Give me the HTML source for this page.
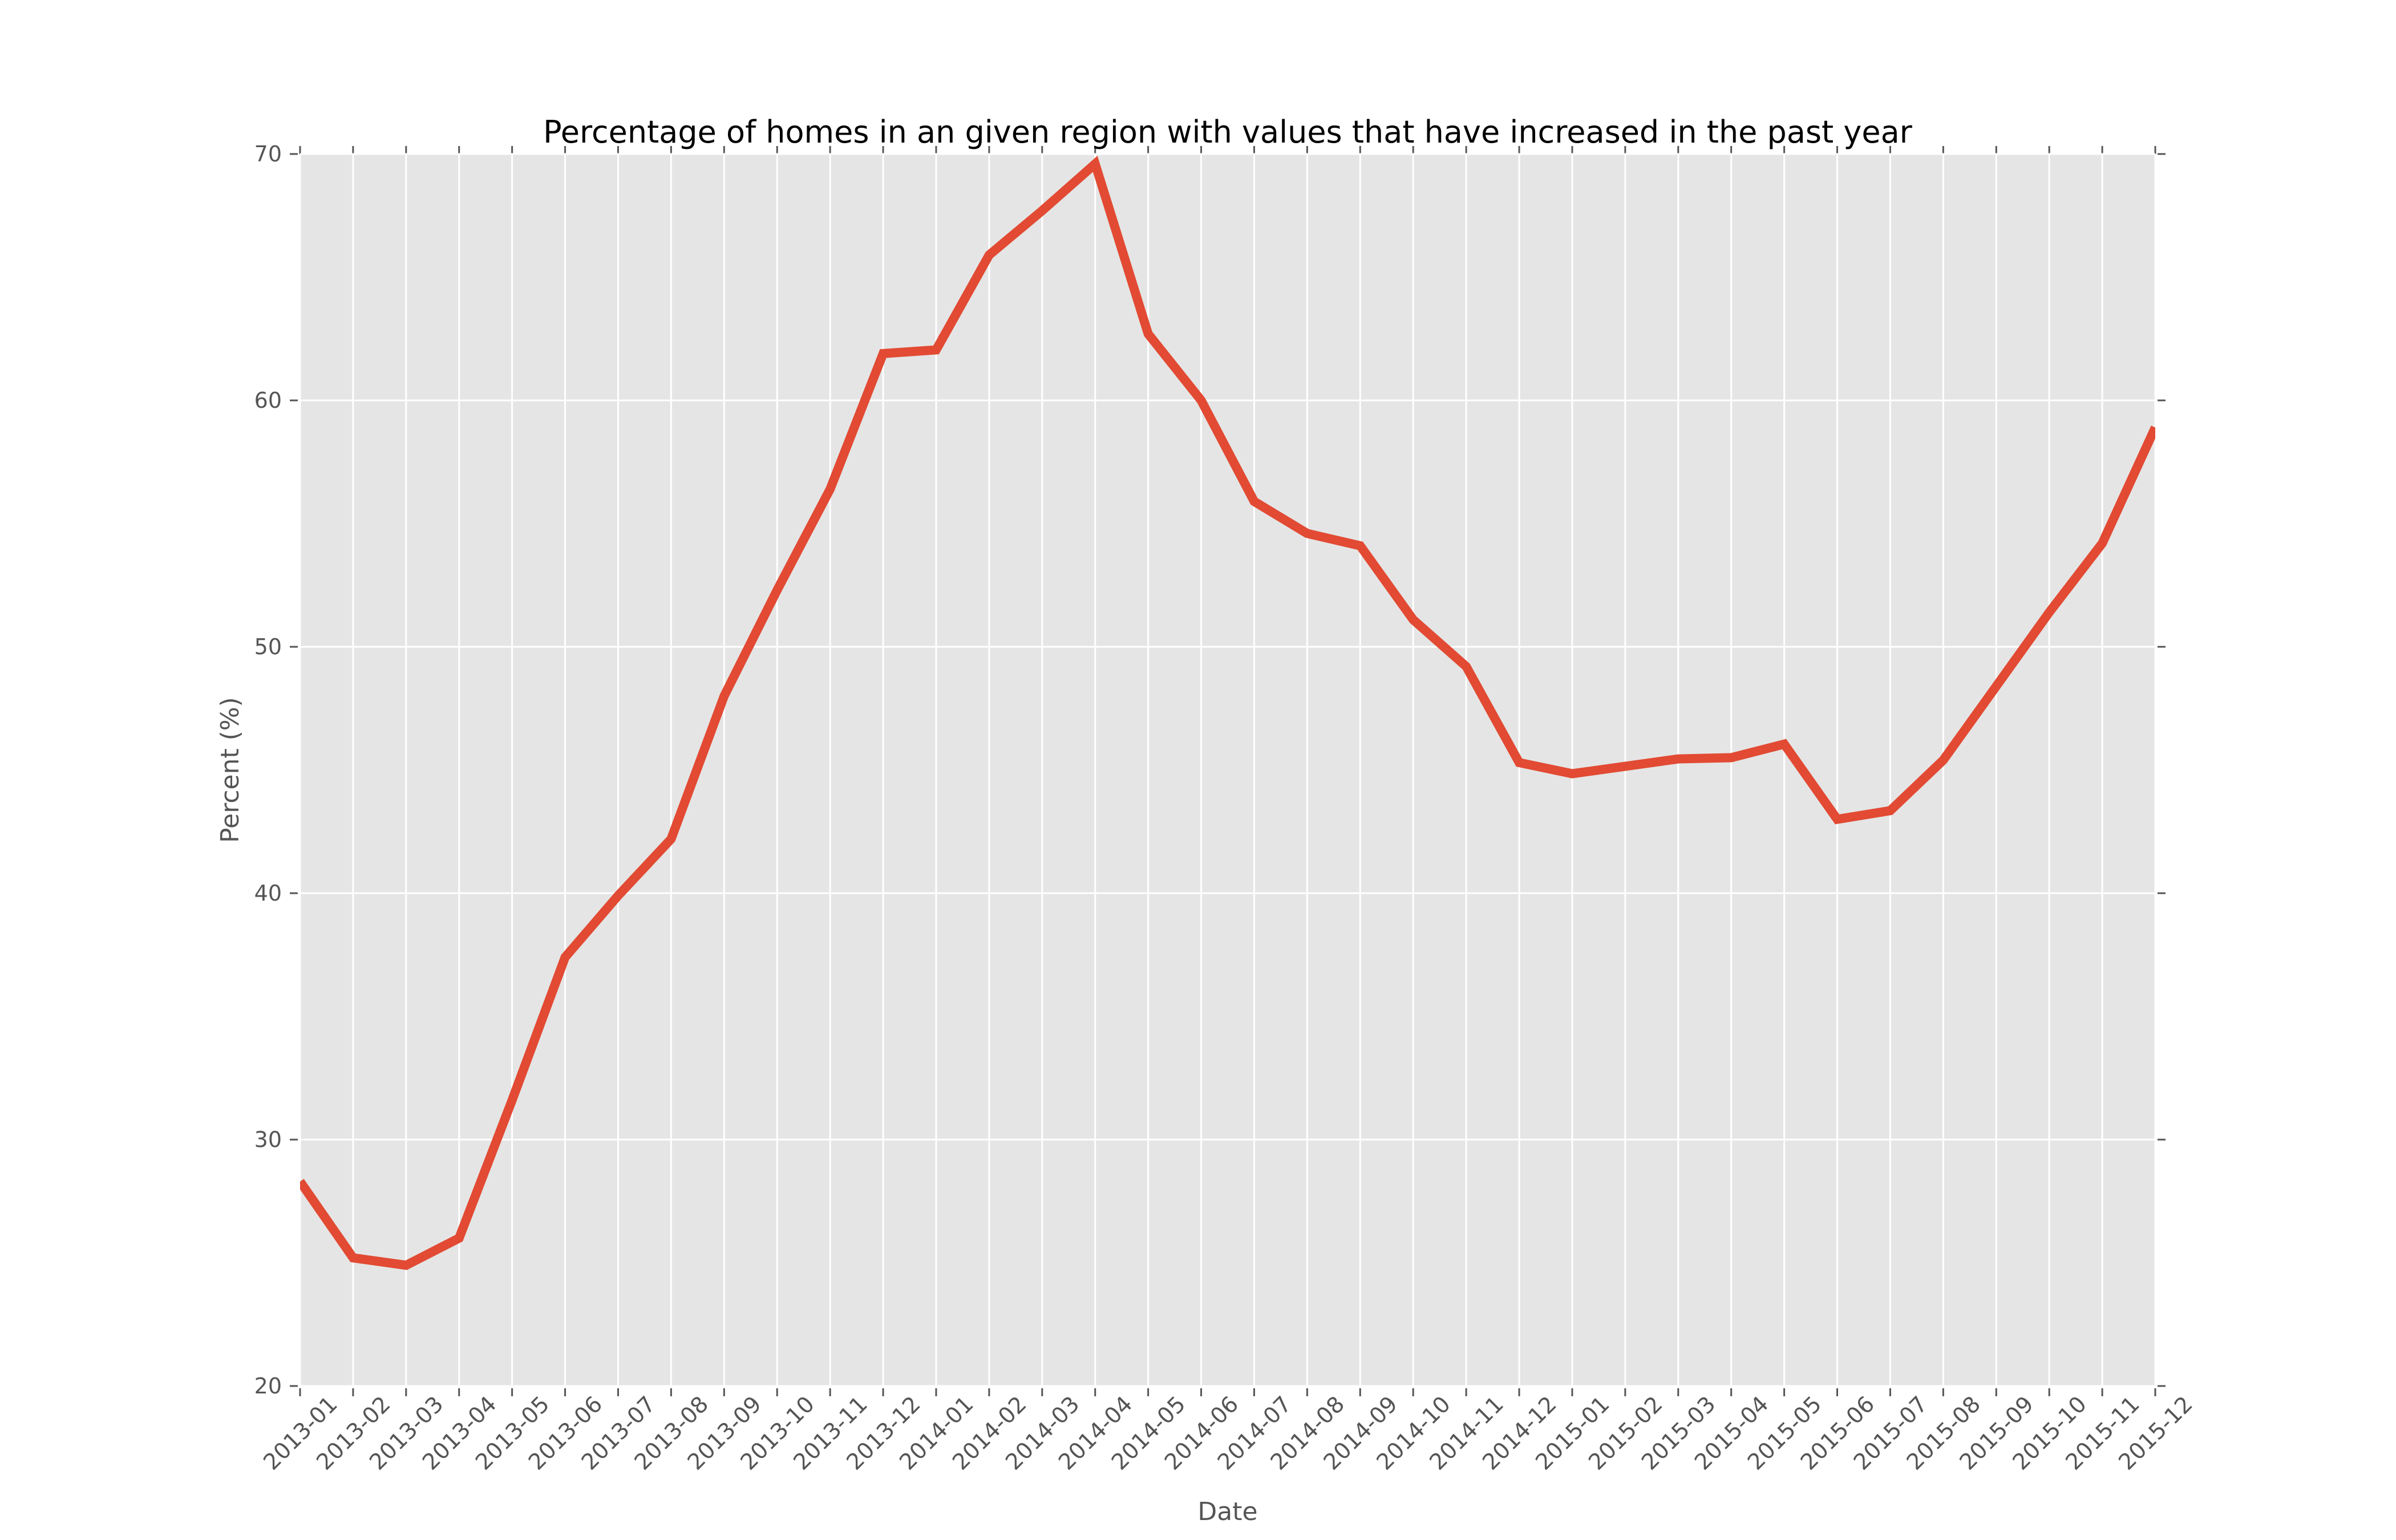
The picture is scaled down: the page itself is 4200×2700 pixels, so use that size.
<!DOCTYPE html>
<html><head><meta charset="utf-8"><style>html,body{margin:0;padding:0;background:#fff}svg{display:block}</style></head>
<body>
<svg id="chart" width="4200" height="2700" xmlns="http://www.w3.org/2000/svg" font-family="'DejaVu Sans','Liberation Sans',sans-serif">
<rect width="4200" height="2700" fill="#fff"/>
<g id="plot"></g>
</svg>
<script>
const categories = ["2013-01","2013-02","2013-03","2013-04","2013-05","2013-06","2013-07","2013-08","2013-09","2013-10","2013-11","2013-12","2014-01","2014-02","2014-03","2014-04","2014-05","2014-06","2014-07","2014-08","2014-09","2014-10","2014-11","2014-12","2015-01","2015-02","2015-03","2015-04","2015-05","2015-06","2015-07","2015-08","2015-09","2015-10","2015-11","2015-12"];
const values = [28.3,25.2,24.9,26.0,31.6,37.4,39.9,42.2,48.0,52.3,56.4,61.9,62.05,65.9,67.7,69.6,62.7,60.0,55.9,54.6,54.1,51.1,49.2,45.3,44.85,45.15,45.45,45.5,46.05,43.0,43.35,45.4,48.4,51.4,54.2,58.9];
const yTicks = [20,30,40,50,60,70];
const yMin = 20, yMax = 70;

const L=526, R=3778, T=270, B=2430;
const NS="http://www.w3.org/2000/svg";
const g=document.getElementById('plot');
function x(i){return L+(R-L)*i/(categories.length-1);}
function y(v){return B-(B-T)*(v-yMin)/(yMax-yMin);}
function el(tag,attrs,parent){const e=document.createElementNS(NS,tag);for(const k in attrs)e.setAttribute(k,attrs[k]);(parent||g).appendChild(e);return e;}

const bg=el('rect',{x:L,y:T,width:R-L,height:B-T,fill:'#E5E5E5'});



categories.forEach((c,i)=>{
  const gl=el('line',{x1:x(i),x2:x(i),y1:T,y2:B,stroke:'#fff','stroke-width':3});
  
  
  const t1=el('line',{x1:x(i),x2:x(i),y1:T-14,y2:T,stroke:'#555','stroke-width':3});
  
  
  const t2=el('line',{x1:x(i),x2:x(i),y1:B+4,y2:B+18,stroke:'#555','stroke-width':3});
  
  
  const cy=2512;
  const tx=el('text',{x:x(i),y:cy+14,'text-anchor':'middle','font-size':39,fill:'#555',transform:`rotate(-45 ${x(i)} ${cy})`});
  tx.textContent=c;
  
  
});
yTicks.forEach(v=>{
  const gl=el('line',{x1:L,x2:R,y1:y(v),y2:y(v),stroke:'#fff','stroke-width':3});
  
  
  const t1=el('line',{x1:L-18,x2:L-4,y1:y(v),y2:y(v),stroke:'#555','stroke-width':3});
  
  
  const t2=el('line',{x1:R+4,x2:R+18,y1:y(v),y2:y(v),stroke:'#555','stroke-width':3});
  
  
  const tx=el('text',{x:L-32,y:y(v)+13,'text-anchor':'end','font-size':38,fill:'#555'});
  tx.textContent=v;
  
  
});

const pts=values.map((v,i)=>x(i)+','+y(v)).join(' ');
const cp=el('clipPath',{id:'clip'});
el('rect',{x:L,y:T,width:R-L,height:B-T},cp);
const line=el('polyline',{points:pts,fill:'none',stroke:'#E24A33','stroke-width':16,'stroke-linejoin':'miter','clip-path':'url(#clip)'});



const title=el('text',{x:(L+R)/2,y:250,'text-anchor':'middle','font-size':54,fill:'#000'});
title.textContent='Percentage of homes in an given region with values that have increased in the past year';



const xl=el('text',{x:(L+R)/2,y:2665,'text-anchor':'middle','font-size':44,fill:'#555'});
xl.textContent='Date';



const yl=el('text',{x:0,y:0,'text-anchor':'middle','font-size':44,fill:'#555',transform:`translate(418 ${(T+B)/2}) rotate(-90)`});
yl.textContent='Percent (%)';


</script>
</body></html>
